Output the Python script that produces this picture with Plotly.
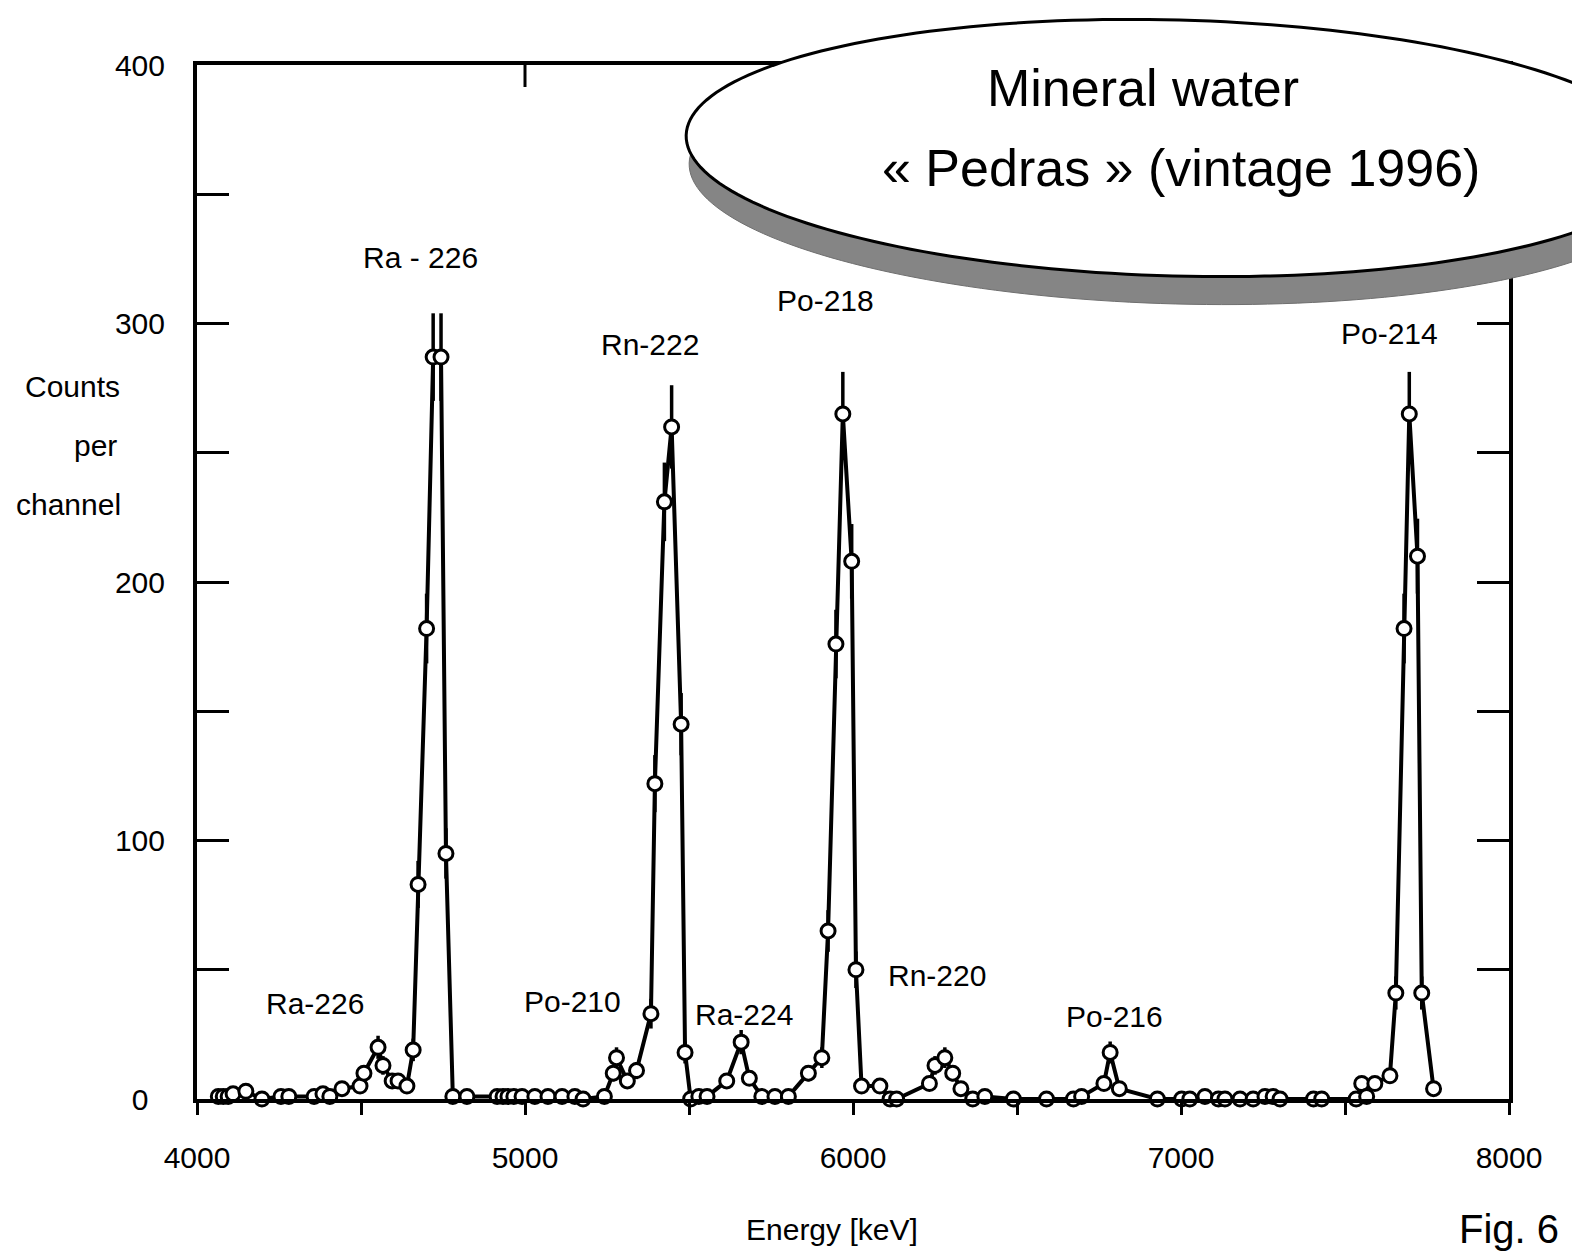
import numpy as np
import plotly.graph_objects as go

# ---------------- data ----------------
energy_keV = [
    4065, 4080, 4095, 4110, 4149, 4198, 4256, 4280, 4357, 4384, 4405, 4442,
    4497, 4509, 4552, 4567, 4595, 4613, 4640, 4659, 4674, 4700, 4720, 4744,
    4759, 4780, 4823,
    4915, 4933, 4948, 4966, 4991, 5030, 5070, 5113, 5152, 5177,
    5242, 5269, 5279, 5312, 5340, 5384, 5396, 5425, 5447, 5476, 5488, 5505,
    5530, 5555, 5615, 5659, 5684, 5722, 5762, 5803, 5864, 5905,
    5924, 5948, 5969, 5996, 6009, 6026, 6082, 6113, 6133,
    6233, 6250, 6280, 6304, 6329, 6365, 6402, 6489, 6590, 6672, 6697,
    6765, 6784, 6812, 6928, 7002, 7027, 7073, 7114, 7134, 7180, 7220,
    7256, 7281, 7302, 7404, 7429, 7534, 7551, 7566, 7591, 7637,
    7655, 7680, 7696, 7721, 7734, 7770,
]
counts = [
    1, 1, 1, 2, 3, 0, 1, 1, 1, 2, 1, 4,
    5, 10, 20, 13, 7, 7, 5, 19, 83, 182, 287, 287,
    95, 1, 1,
    1, 1, 1, 1, 1, 1, 1, 1, 1, 0,
    1, 10, 16, 7, 11, 33, 122, 231, 260, 145, 18, 0,
    1, 1, 7, 22, 8, 1, 1, 1, 10, 16,
    65, 176, 265, 208, 50, 5, 5, 0, 0,
    6, 13, 16, 10, 4, 0, 1, 0, 0, 0, 1,
    6, 18, 4, 0, 0, 0, 1, 0, 0, 0, 0,
    1, 1, 0, 0, 0, 0, 6, 1, 6, 9,
    41, 182, 265, 210, 41, 4,
]

x_tick_vals = [4000, 4500, 5000, 5500, 6000, 6500, 7000, 7500, 8000]
x_tick_text = ["4000", "", "5000", "", "6000", "", "7000", "", "8000"]
y_tick_vals = [0, 50, 100, 150, 200, 250, 300, 350, 400]
y_tick_text = ["0\u2007", "", "100", "", "200", "", "300", "", "400"]

peak_labels = ["Ra - 226", "Rn-222", "Po-218", "Po-214",
               "Ra-226", "Po-210", "Ra-224", "Rn-220", "Po-216"]
peak_label_x = [4680, 5381, 5915, 7637, 4360, 5146, 5668, 6256, 6796]
peak_label_y = [325.5, 292, 309, 296, 37, 37.7, 32.7, 47.8, 31.9]

title_line1 = "Mineral water"
title_line2 = "« Pedras » (vintage 1996)"

# ---------------- layout geometry ----------------
W, H = 1572, 1254
ML, MR, MT, MB = 197, 63, 65, 155
PW, PH = W - ML - MR, H - MT - MB
FONT = "Liberation Sans, Arial, sans-serif"


def px(xp):
    return (xp - ML) / PW


def py(yp):
    return (H - MB - yp) / PH


def ellipse_path(cx, cy, a, b, deg, n=200):
    th = np.deg2rad(deg)
    t = np.linspace(0, 2 * np.pi, n, endpoint=False)
    xs = cx + a * np.cos(t) * np.cos(th) - b * np.sin(t) * np.sin(th)
    ys = cy + a * np.cos(t) * np.sin(th) + b * np.sin(t) * np.cos(th)
    pts = [f"{px(x):.5f},{py(y):.5f}" for x, y in zip(xs, ys)]
    return "M " + " L ".join(pts) + " Z"


fig = go.Figure()
fig.add_trace(go.Scatter(
    x=energy_keV, y=counts, mode="lines+markers",
    line=dict(color="black", width=4),
    marker=dict(symbol="circle", size=14, color="white",
                line=dict(color="black", width=3)),
    error_y=dict(type="sqrt", color="black", thickness=3.5, width=0),
    cliponaxis=False, showlegend=False,
))

shapes = []
# shadow of the ellipse
shapes.append(dict(type="path", xref="paper", yref="paper",
                   path=ellipse_path(1179, 176, 490, 128, 1.5),
                   fillcolor="#858585", line=dict(color="#6f6f6f", width=1),
                   layer="above"))
# white ellipse
shapes.append(dict(type="path", xref="paper", yref="paper",
                   path=ellipse_path(1176, 148, 490, 128, 1.5),
                   fillcolor="white", line=dict(color="black", width=3),
                   layer="above"))
# single tick on the top axis at 5000
shapes.append(dict(type="line", xref="x", yref="paper",
                   x0=5000, x1=5000, y0=1, y1=1 - 22 / PH,
                   line=dict(color="black", width=3), layer="above"))

annotations = []
for t, xx, yy in zip(peak_labels, peak_label_x, peak_label_y):
    annotations.append(dict(x=xx, y=yy, xref="x", yref="y", text=t,
                            showarrow=False, xanchor="center", yanchor="middle",
                            font=dict(size=30, color="black", family=FONT)))

for t, xp, yp in [("Counts", 72, 387), ("per", 95, 445), ("channel", 68, 504)]:
    annotations.append(dict(x=px(xp), y=py(yp), xref="paper", yref="paper",
                            text=t, showarrow=False, xanchor="center",
                            yanchor="middle",
                            font=dict(size=30, color="black", family=FONT)))
annotations.append(dict(x=px(832), y=py(1229), xref="paper", yref="paper",
                        text="Energy [keV]", showarrow=False, xanchor="center",
                        yanchor="middle",
                        font=dict(size=30, color="black", family=FONT)))
annotations.append(dict(x=px(1457), y=py(1253), xref="paper", yref="paper",
                        text="Fig. 6", showarrow=False, xanchor="left",
                        yanchor="bottom",
                        font=dict(size=40, color="black", family=FONT)))
annotations.append(dict(x=px(1143), y=py(88), xref="paper", yref="paper",
                        text=title_line1, showarrow=False, xanchor="center",
                        yanchor="middle",
                        font=dict(size=52, color="black", family=FONT)))
annotations.append(dict(x=px(1181), y=py(168), xref="paper", yref="paper",
                        text=title_line2, showarrow=False, xanchor="center",
                        yanchor="middle",
                        font=dict(size=52, color="black", family=FONT)))

fig.update_layout(
    width=W, height=H,
    margin=dict(l=ML, r=MR, t=MT, b=MB, pad=0),
    paper_bgcolor="white", plot_bgcolor="white",
    font=dict(family=FONT, size=30, color="black"),
    shapes=shapes, annotations=annotations,
    xaxis=dict(range=[4000, 8000], tickmode="array", tickvals=x_tick_vals,
               ticktext=x_tick_text, ticks="outside", ticklen=12, tickwidth=3,
               tickcolor="black", showline=True, linewidth=4, linecolor="black",
               mirror=True, showgrid=False, zeroline=False,
               ticklabelstandoff=17, tickfont=dict(size=30, family=FONT)),
    yaxis=dict(range=[0, 400], tickmode="array", tickvals=y_tick_vals,
               ticktext=y_tick_text, ticks="inside", ticklen=32, tickwidth=3,
               tickcolor="black", showline=True, linewidth=4, linecolor="black",
               mirror="ticks", showgrid=False, zeroline=False,
               ticklabelstandoff=22, tickfont=dict(size=30, family=FONT)),
)

fig.write_html("out.html")
